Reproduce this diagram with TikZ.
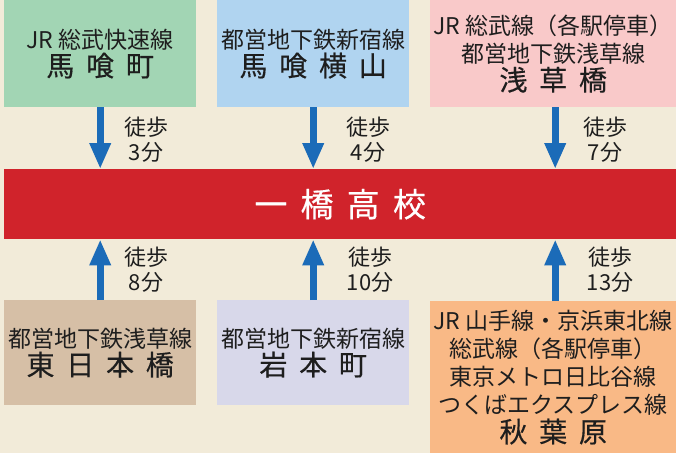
\documentclass[tikz,border=0pt]{standalone}
\usepackage{fontspec}
\setmainfont{Noto Sans CJK JP}
\newfontfamily\namefont[FakeBold=0.4]{Noto Sans CJK JP}
\usetikzlibrary{arrows.meta}
\definecolor{cbg}{HTML}{F2EBD9}
\definecolor{cgreen}{HTML}{A2D5B4}
\definecolor{cblue}{HTML}{B0D4F0}
\definecolor{cpink}{HTML}{F9C9C9}
\definecolor{cred}{HTML}{D0232B}
\definecolor{ctan}{HTML}{D6BFA6}
\definecolor{clav}{HTML}{D8D8EA}
\definecolor{corange}{HTML}{F9B986}
\definecolor{carrow}{HTML}{1B6BB8}
\definecolor{ctext}{HTML}{1E1E1E}
\newcommand{\jg}{\hspace{0.42em}}
\newcommand{\bigname}[1]{{\namefont\fontsize{28}{32}\selectfont #1}}
\begin{document}
\begin{tikzpicture}[x=1pt,y=-1pt,
  stationbox/.style={anchor=north west, inner sep=0pt, align=center, text=ctext,
    font=\fontsize{23}{28}\selectfont},
  walk/.style={inner sep=0pt, align=center, text=ctext, font=\fontsize{22}{25}\selectfont},
  walkarrow/.style={draw=carrow, line width=7pt, -{Triangle[width=20pt,length=26pt]}}]
\fill[cbg] (0,0) rectangle (676,453);
\useasboundingbox (0,0) rectangle (676,453);

\node[stationbox, fill=cgreen, minimum width=192pt, minimum height=107pt] (b1) at (4,0)
  {JR 総武快速線\\\bigname{馬\jg 喰\jg 町}};
\node[stationbox, fill=cblue, minimum width=192pt, minimum height=107pt] (b2) at (217,0)
  {都営地下鉄新宿線\\\bigname{馬\jg 喰\jg 横\jg 山}};
\node[stationbox, fill=cpink, minimum width=246pt, minimum height=107pt] (b3) at (430,0)
  {JR 総武線（各駅停車）\\都営地下鉄浅草線\\\bigname{浅\jg 草\jg 橋}};

\node[anchor=north west, inner sep=0pt, fill=cred, minimum width=672pt, minimum height=70pt,
  text=white, font=\namefont\fontsize{33}{36}\selectfont] (bar) at (4,169)
  {一\hspace{0.4em}橋\hspace{0.4em}高\hspace{0.4em}校};

\node[stationbox, fill=ctan, minimum width=192pt, minimum height=105pt] (b4) at (4,300)
  {都営地下鉄浅草線\\\bigname{東\jg 日\jg 本\jg 橋}};
\node[stationbox, fill=clav, minimum width=192pt, minimum height=105pt] (b5) at (217,300)
  {都営地下鉄新宿線\\\bigname{岩\jg 本\jg 町}};
\node[stationbox, fill=corange, minimum width=246pt, minimum height=152pt] (b6) at (430,301)
  {JR 山手線・京浜東北線\\総武線（各駅停車）\\東京メトロ日比谷線\\つくばエクスプレス線\\[1pt]\bigname{秋\jg 葉\jg 原}};

\draw[walkarrow] (b1.south) -- (b1.south |- bar.north);
\draw[walkarrow] (b2.south) -- (b2.south |- bar.north);
\draw[walkarrow] ([xshift=2pt]b3.south) -- ([xshift=2pt]b3.south |- bar.north);
\draw[walkarrow] (b4.north) -- (b4.north |- bar.south);
\draw[walkarrow] (b5.north) -- (b5.north |- bar.south);
\draw[walkarrow] ([xshift=2pt]b6.north) -- ([xshift=2pt]b6.north |- bar.south);

\node[walk] (w1) at (146,140) {徒歩\\3分};
\node[walk] (w2) at (368,140) {徒歩\\4分};
\node[walk] (w3) at (605,140) {徒歩\\7分};
\node[walk] (w4) at (146,270) {徒歩\\8分};
\node[walk] (w5) at (370,270) {徒歩\\10分};
\node[walk] (w6) at (610,270) {徒歩\\13分};
\end{tikzpicture}
\end{document}
